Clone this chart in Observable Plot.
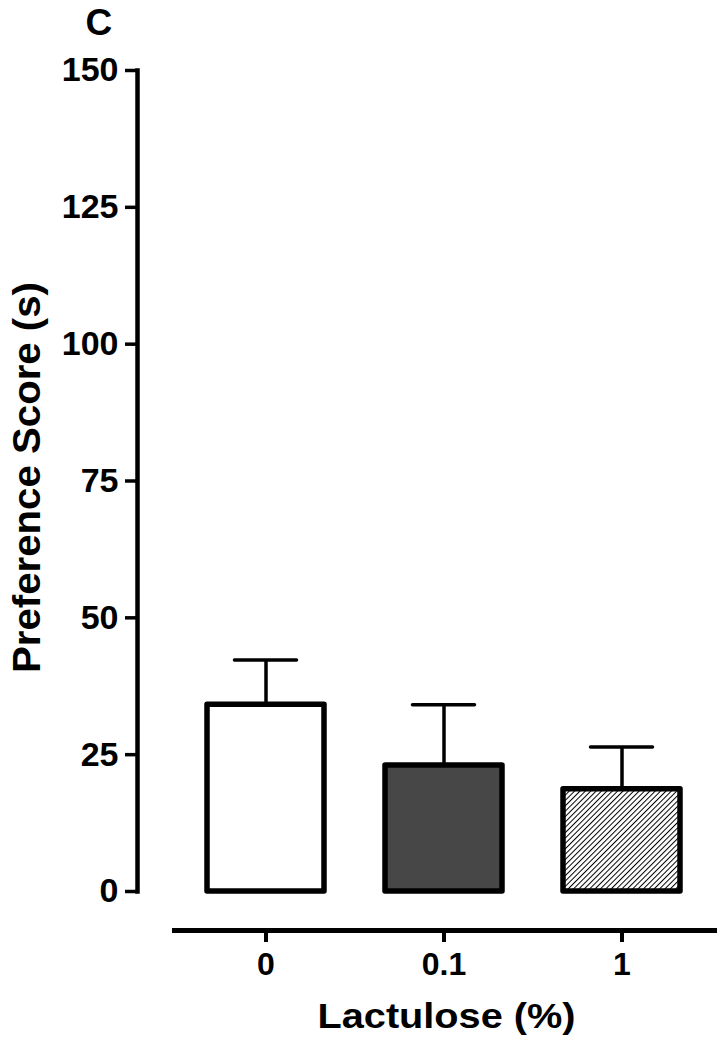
<!DOCTYPE html>
<html>
<head>
<meta charset="utf-8">
<script src="https://cdn.jsdelivr.net/npm/d3@7"></script>
<script src="https://cdn.jsdelivr.net/npm/@observablehq/plot@0.6"></script>
<style>
  html, body { margin: 0; padding: 0; background: #ffffff; }
  #chart svg { display: block; }
</style>
</head>
<body>
<div id="chart"></div>
<script>
// Data
const doses = ["0", "0.1", "1"];
const means = [34.1, 23.0, 18.7];
const sems = [8.2, 11.1, 7.7];
const fills = ["#ffffff", "#474747", "url(#hatch)"];
const yTicks = [0, 25, 50, 75, 100, 125, 150];
const xTitle = "Lactulose (%)";
const yTitle = "Preference Score (s)";
const panelLabel = "C";

const data = doses.map((d, i) => ({dose: d, mean: means[i], upper: means[i] + sems[i], fill: fills[i]}));

const FONT = "'Liberation Sans', Arial, Helvetica, sans-serif";

const chart = Plot.plot({
  width: 723,
  height: 1050,
  marginTop: 70,
  marginBottom: 120,
  marginLeft: 137,
  marginRight: 0,
  style: {fontFamily: FONT, fontWeight: "bold", color: "#000", background: "transparent", overflow: "visible"},
  x: {domain: doses, insetLeft: 37, insetRight: 9, paddingInner: 0.341, paddingOuter: 0.179},
  y: {domain: [0, 150], insetBottom: 39},
  marks: [
    Plot.frame({anchor: "left", insetBottom: 39, stroke: "#000", strokeWidth: 4.5, strokeLinecap: "square"}),
    Plot.frame({anchor: "bottom", insetLeft: 37, insetRight: 9, stroke: "#000", strokeWidth: 5}),
    Plot.axisY({ticks: yTicks, tickSize: 12, tickPadding: 7, strokeWidth: 3.5, fontSize: 34, fontWeight: "bold", label: null}),
    Plot.axisX({tickSize: 12, tickPadding: 10, strokeWidth: 4, fontSize: 32, fontWeight: "bold", label: null}),
    Plot.ruleX(data, {x: "dose", y1: "mean", y2: "upper", stroke: "#000", strokeWidth: 3.5}),
    Plot.tickY(data, {x: "dose", y: "upper", stroke: "#000", strokeWidth: 3.5, insetLeft: 27.5, insetRight: 27.5, strokeLinecap: "round"}),
    Plot.barY(data, {x: "dose", y: "mean", fill: "fill", stroke: "#000", strokeWidth: 5.5, strokeLinejoin: "round"}),
    Plot.text([xTitle], {frameAnchor: "bottom", textAnchor: "middle", dx: 16, dy: 73, lineAnchor: "top", fontSize: 35, fontWeight: "bold", fill: "#000"}),
    Plot.text([yTitle], {frameAnchor: "left", textAnchor: "middle", dx: -124, dy: -23, rotate: -90, lineAnchor: "top", fontSize: 38, fontWeight: "bold", fill: "#000"}),
    Plot.text([panelLabel], {frameAnchor: "top-left", dx: -52, dy: -62, textAnchor: "start", lineAnchor: "top", fontSize: 37, fontWeight: "bold", fill: "#000"})
  ]
});

const svg = d3.select(chart);
// stretch titles horizontally like the reference
svg.selectAll("text").filter(function() { return this.textContent === xTitle; })
  .attr("textLength", 258).attr("lengthAdjust", "spacingAndGlyphs");
svg.selectAll("text").filter(function() { return this.textContent === yTitle; })
  .attr("textLength", 391).attr("lengthAdjust", "spacingAndGlyphs");

// hatch pattern for the third bar
const defs = svg.insert("defs", ":first-child");
const pat = defs.append("pattern")
  .attr("id", "hatch")
  .attr("patternUnits", "userSpaceOnUse")
  .attr("width", 3.8)
  .attr("height", 3.8)
  .attr("patternTransform", "rotate(45)");
pat.append("rect").attr("width", 3.8).attr("height", 3.8).attr("fill", "#fff");
pat.append("line").attr("x1", 0).attr("y1", 0).attr("x2", 0).attr("y2", 3.8)
  .attr("stroke", "#000").attr("stroke-width", 2);

document.getElementById("chart").appendChild(chart);
</script>
</body>
</html>
